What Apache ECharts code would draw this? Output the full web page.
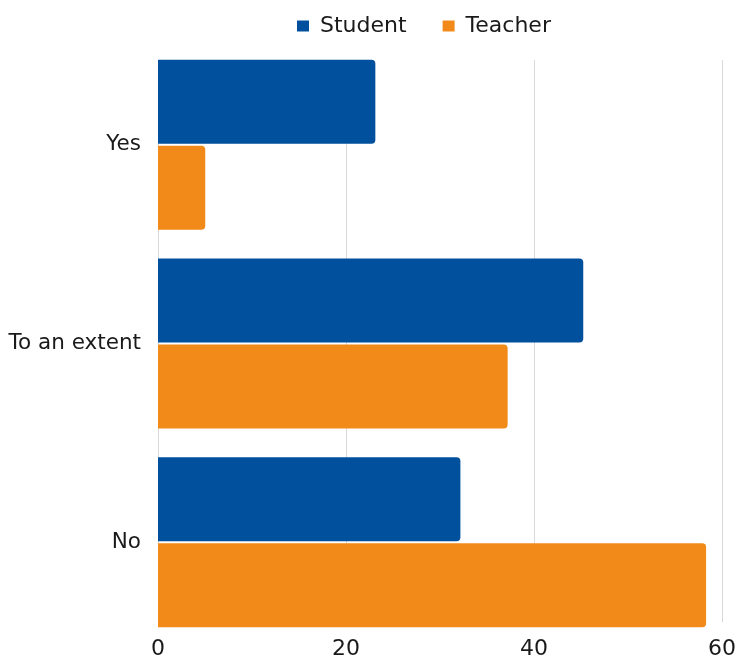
<!DOCTYPE html>
<html><head><meta charset="utf-8">
<script src="https://cdn.jsdelivr.net/npm/echarts@6/dist/echarts.min.js"></script>
<style>html,body{margin:0;padding:0;background:#fff}#c{width:739px;height:660px}</style>
</head><body><div id="c"></div>
<script>
var categories = ['Yes', 'To an extent', 'No'];
var studentValues = [23, 45, 32];
var teacherValues = [5, 37, 58];
var xTicks = [0, 20, 40, 60];

var FONT = '"DejaVu Sans", sans-serif';
var chart = echarts.init(document.getElementById('c'));
chart.setOption({
  animation: false,
  backgroundColor: '#fff',
  legend: {
    top: 10, left: 292,
    itemWidth: 12, itemHeight: 11, itemGap: 36,
    icon: 'rect',
    textStyle: { fontFamily: FONT, fontSize: 22, color: '#1a1a1a', padding: [0, 0, 0, 6] },
    data: ['Student', 'Teacher']
  },
  grid: [
    { left: 158, right: 14, top: 60, bottom: 33 },
    { left: 158, right: 14, top: 45.5, bottom: 18.5 }
  ],
  xAxis: [
    { gridIndex: 0, type: 'value', min: xTicks[0], max: xTicks[xTicks.length - 1], interval: 20,
      axisLine: { show: false }, axisTick: { show: false },
      splitLine: { show: true, lineStyle: { color: '#d9d9d9', width: 1 } },
      axisLabel: { fontFamily: FONT, fontSize: 22, color: '#1a1a1a', margin: 16 } },
    { gridIndex: 1, type: 'value', min: 0, max: 60, show: false, splitLine: { show: false } }
  ],
  yAxis: [
    { gridIndex: 0, type: 'value', min: 0, max: 1, show: false },
    { gridIndex: 1, type: 'category', data: categories, inverse: true,
      axisLine: { show: false }, axisTick: { show: false },
      axisLabel: { fontFamily: FONT, fontSize: 21.5, color: '#1a1a1a', margin: 17, padding: [4, 0, 0, 0] } }
  ],
  series: [
    { name: 'Student', type: 'bar', xAxisIndex: 1, yAxisIndex: 1, data: studentValues,
      barWidth: 84, barGap: '2.4%',
      itemStyle: { color: '#00509e', borderRadius: [0, 4, 4, 0] } },
    { name: 'Teacher', type: 'bar', xAxisIndex: 1, yAxisIndex: 1, data: teacherValues,
      barWidth: 84, barGap: '2.4%',
      itemStyle: { color: '#f28a1a', borderRadius: [0, 4, 4, 0] } }
  ]
});
</script></body></html>
